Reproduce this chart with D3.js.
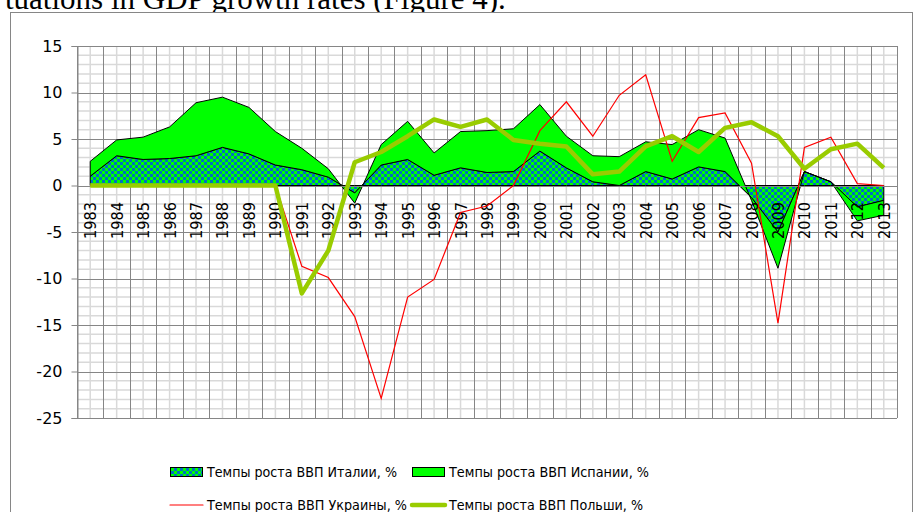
<!DOCTYPE html>
<html>
<head>
<meta charset="utf-8">
<script src="https://cdn.jsdelivr.net/npm/d3@7/dist/d3.min.js"></script>
<style>
  html, body { margin: 0; padding: 0; background: #fff; }
  svg { display: block; }
</style>
</head>
<body>
<svg id="chart" width="919" height="512"></svg>
<script>
// ---------- DATA ----------
const years = [1983,1984,1985,1986,1987,1988,1989,1990,1991,1992,1993,1994,1995,1996,1997,1998,1999,2000,2001,2002,2003,2004,2005,2006,2007,2008,2009,2010,2011,2012,2013];
const italy   = [1.0,3.2,2.8,2.9,3.2,4.1,3.4,2.2,1.7,0.9,-0.8,2.2,2.8,1.1,1.9,1.4,1.5,3.7,1.9,0.4,0.0,1.5,0.7,2.0,1.5,-1.3,-5.0,1.5,0.4,-2.3,-1.6];
const spain   = [1.6,1.7,2.4,3.4,5.7,5.4,5.0,3.6,2.3,0.9,-1.1,2.2,4.1,2.4,3.9,4.5,4.6,5.0,3.4,2.8,3.1,3.2,3.7,4.0,3.6,-0.3,-3.9,0.0,0.0,-1.5,-1.6];
const ukraine = [0,0,0,0,0,0,0,0,-8.7,-9.9,-14.1,-22.9,-12.0,-10.1,-2.9,-2.2,0.0,5.9,9.0,5.3,9.7,11.9,2.6,7.3,7.8,2.4,-14.8,4.1,5.2,0.2,0.0];
const poland  = [0,0,0,0,0,0,0,0,-11.6,-7.0,2.5,3.6,5.3,7.1,6.3,7.1,4.9,4.5,4.2,1.2,1.5,4.2,5.3,3.6,6.2,6.8,5.3,1.8,3.9,4.5,1.9];
const yTicks = [-25,-20,-15,-10,-5,0,5,10,15];
const seriesNames = ["Темпы роста ВВП Италии, %","Темпы роста ВВП Испании, %","Темпы роста ВВП Украины, %","Темпы роста ВВП Польши, %"];
const caption = "tuations in GDP growth rates (Figure 4).";

// ---------- LAYOUT ----------
const svg = d3.select("#chart");
const L = 77, R = 897, T = 46, B = 418;
const C_GREEN = "#00ff00", C_BLUE = "#0070c0", C_RED = "#ff0000", C_POL = "#99cc00";
const C_GRID = "#868686", C_MINOR = "#d9d9d9";

const x = d3.scaleBand().domain(years).range([L, R]).padding(0);
const bw = x.bandwidth();
const cx = yr => x(yr) + bw / 2;
const y = d3.scaleLinear().domain([-25, 15]).range([B, T]);

// pattern
const defs = svg.append("defs");
const pat = defs.append("pattern").attr("id", "chk").attr("patternUnits", "userSpaceOnUse")
  .attr("width", 6).attr("height", 6);
pat.append("rect").attr("width", 6).attr("height", 6).attr("fill", C_GREEN);
pat.append("rect").attr("x", 0).attr("y", 0).attr("width", 3).attr("height", 3).attr("fill", C_BLUE);
pat.append("rect").attr("x", 3).attr("y", 3).attr("width", 3).attr("height", 3).attr("fill", C_BLUE);

// caption (cut at top of page)
svg.append("text").attr("x", 5).attr("y", 9)
  .attr("font-family", "'Liberation Serif','Times New Roman',serif")
  .attr("font-size", 31).attr("fill", "#000")
  .text(caption);

// outer chart border
svg.append("rect").attr("x", 10.5).attr("y", 12.5).attr("width", 902).attr("height", 520)
  .attr("fill", "#fff").attr("stroke", C_GRID).attr("stroke-width", 1);

// ---------- GRID ----------
const g = svg.append("g");
const minorVals = d3.range(-25, 16, 1).filter(v => v % 5 !== 0);
g.selectAll(".hmin").data(minorVals).join("line")
  .attr("x1", L).attr("x2", R).attr("y1", d => y(d)).attr("y2", d => y(d))
  .attr("stroke", C_MINOR).attr("stroke-width", 1.5);
g.selectAll(".vmin").data(years).join("line")
  .attr("x1", d => cx(d)).attr("x2", d => cx(d)).attr("y1", T).attr("y2", B)
  .attr("stroke", C_MINOR).attr("stroke-width", 1.5);
g.selectAll(".hmaj").data(yTicks).join("line")
  .attr("x1", L).attr("x2", R).attr("y1", d => Math.round(y(d)) + 0.5).attr("y2", d => Math.round(y(d)) + 0.5)
  .attr("stroke", C_GRID).attr("stroke-width", 1);
g.selectAll(".vmaj").data(years.concat(["end"])).join("line")
  .attr("x1", d => Math.round(d === "end" ? R : x(d)) + 0.5)
  .attr("x2", d => Math.round(d === "end" ? R : x(d)) + 0.5)
  .attr("y1", T).attr("y2", B)
  .attr("stroke", C_GRID).attr("stroke-width", 1);

// y axis
const yAxis = d3.axisLeft(y).tickValues(yTicks).tickSize(6).tickPadding(9).tickFormat(d => String(d));
const ya = svg.append("g").attr("transform", `translate(${L + 0.5},0)`).call(yAxis);
ya.select(".domain").attr("stroke", C_GRID);
ya.selectAll(".tick line").attr("stroke", C_GRID);
ya.selectAll(".tick text").attr("font-family", "'DejaVu Sans',sans-serif").attr("font-size", 16).attr("fill", "#000");

// ---------- AREAS (stacked) ----------
const rows = years.map((yr, i) => ({ year: yr, italy: italy[i], spain: spain[i] }));
const stack = d3.stack().keys(["italy", "spain"]).offset(d3.stackOffsetNone);
const stacked = stack(rows);
const area = d3.area().x(d => cx(d.data.year)).y0(d => y(d[0])).y1(d => y(d[1]));
svg.append("path").datum(stacked[0]).attr("d", area)
  .attr("fill", "url(#chk)").attr("stroke", "#000").attr("stroke-width", 1).attr("stroke-linejoin", "round");
svg.append("path").datum(stacked[1]).attr("d", area)
  .attr("fill", C_GREEN).attr("stroke", "#000").attr("stroke-width", 1).attr("stroke-linejoin", "round");

// x axis line at zero
svg.append("line").attr("x1", L).attr("x2", R)
  .attr("y1", Math.round(y(0)) + 0.5).attr("y2", Math.round(y(0)) + 0.5)
  .attr("stroke", C_GRID).attr("stroke-width", 1);

// x labels
const xa = svg.append("g");
xa.selectAll("text").data(years).join("text")
  .attr("transform", d => `translate(${cx(d) + 6},202) rotate(-90)`)
  .attr("text-anchor", "end")
  .attr("font-family", "'DejaVu Sans',sans-serif").attr("font-size", 16)
  .attr("textLength", 37).attr("lengthAdjust", "spacingAndGlyphs")
  .attr("fill", "#000")
  .text(d => d);

// ---------- LINES ----------
const line = d3.line().x((d, i) => cx(years[i])).y(d => y(d));
svg.append("path").datum(ukraine).attr("d", line)
  .attr("fill", "none").attr("stroke", C_RED).attr("stroke-width", 1.2).attr("stroke-linejoin", "miter");
svg.append("path").datum(poland).attr("d", line)
  .attr("fill", "none").attr("stroke", C_POL).attr("stroke-width", 4.5).attr("stroke-linejoin", "round");

// ---------- LEGEND ----------
const lg = svg.append("g").attr("font-family", "'DejaVu Sans',sans-serif").attr("font-size", 14).attr("fill", "#000");
const legendItems = [
  { name: seriesNames[0], kind: "pat",  sx: 170, tx: 207, ty: 472, tl: 190 },
  { name: seriesNames[1], kind: "fill", sx: 412, tx: 449, ty: 472, tl: 200 },
  { name: seriesNames[2], kind: "red",  sx: 170, tx: 207, ty: 505, tl: 200 },
  { name: seriesNames[3], kind: "pol",  sx: 412, tx: 449, ty: 505, tl: 194 }
];
legendItems.forEach(it => {
  if (it.kind === "pat" || it.kind === "fill") {
    lg.append("rect").attr("x", it.sx + 0.5).attr("y", it.ty - 4.5).attr("width", 32).attr("height", 9)
      .attr("fill", it.kind === "pat" ? "url(#chk)" : C_GREEN).attr("stroke", "#000");
  } else {
    lg.append("line").attr("x1", it.sx).attr("x2", it.sx + 33).attr("y1", it.ty).attr("y2", it.ty)
      .attr("stroke", it.kind === "red" ? C_RED : C_POL).attr("stroke-width", it.kind === "red" ? 1.2 : 4.5)
      .attr("stroke-linecap", "round");
  }
  lg.append("text").attr("x", it.tx).attr("y", it.ty).attr("dominant-baseline", "central")
    .attr("textLength", it.tl).attr("lengthAdjust", "spacingAndGlyphs")
    .text(it.name);
});
</script>
</body>
</html>
